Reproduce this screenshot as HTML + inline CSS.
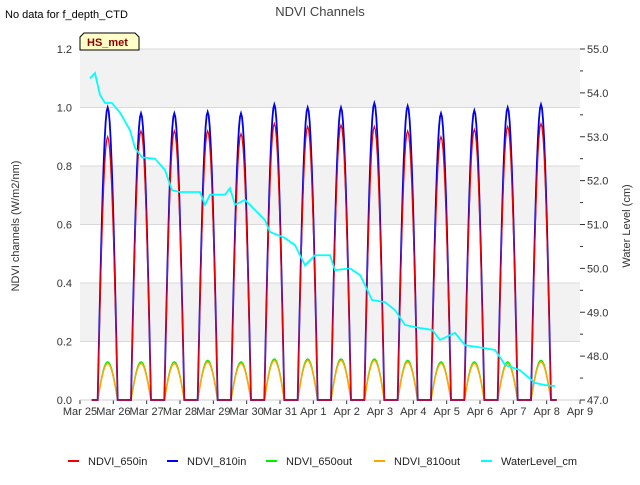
<!DOCTYPE html>
<html><head><meta charset="utf-8"><style>
body{margin:0;background:#fff;font-family:"Liberation Sans","DejaVu Sans",sans-serif}
svg text{font-family:"Liberation Sans","DejaVu Sans",sans-serif}
</style></head><body>
<svg id="c" width="640" height="480" xmlns="http://www.w3.org/2000/svg"></svg>
<script>
const dayLabels=["Mar 25","Mar 26","Mar 27","Mar 28","Mar 29","Mar 30","Mar 31","Apr 1","Apr 2","Apr 3","Apr 4","Apr 5","Apr 6","Apr 7","Apr 8","Apr 9"];
const leftTicks=[0.0,0.2,0.4,0.6,0.8,1.0,1.2];
const rightTicks=[47.0,48.0,49.0,50.0,51.0,52.0,53.0,54.0,55.0];
const peak810in=[1.0,0.98,0.98,0.985,0.98,1.01,1.0,1.0,1.015,1.005,0.98,0.99,1.0,1.01];
const peak650in=[0.9,0.92,0.92,0.92,0.91,0.945,0.935,0.94,0.935,0.92,0.9,0.925,0.935,0.945];
const peak650out=[0.13,0.13,0.13,0.135,0.13,0.14,0.14,0.14,0.14,0.135,0.13,0.13,0.13,0.135];
const peak810out=[0.125,0.125,0.125,0.13,0.125,0.135,0.135,0.135,0.135,0.13,0.125,0.125,0.125,0.13];
const wlDays=[0.30,0.45,0.60,0.75,0.96,1.20,1.50,1.65,1.86,2.25,2.55,2.76,3.0,3.6,3.75,3.9,4.35,4.5,4.65,4.95,5.25,5.55,5.7,6.15,6.45,6.75,7.05,7.5,7.65,8.1,8.4,8.55,8.76,9.15,9.45,9.75,10.2,10.56,10.8,11.25,11.55,12.0,12.45,12.75,13.2,13.65,13.95,14.25];
const wlVals=[54.33,54.45,53.95,53.77,53.77,53.55,53.15,52.75,52.53,52.5,52.24,51.78,51.74,51.74,51.45,51.68,51.68,51.83,51.45,51.56,51.33,51.1,50.83,50.69,50.53,50.07,50.3,50.3,49.96,50.0,49.85,49.62,49.28,49.23,49.05,48.71,48.64,48.6,48.37,48.53,48.25,48.2,48.14,47.8,47.68,47.39,47.34,47.32];

const NS="http://www.w3.org/2000/svg",svg=document.getElementById("c");
const X0=80,X1=580,Y0=400,Y1=49;
const xs=d=>X0+d*(X1-X0)/15;
const yl=v=>Y0-v*(Y0-Y1)/1.2;
const yr=v=>Y0-(v-47)*(Y0-Y1)/8;
function mk(t,a,p){const e=document.createElementNS(NS,t);for(const k in a)e.setAttribute(k,a[k]);(p||svg).appendChild(e);return e;}
[[0.2,0.4],[0.6,0.8],[1.0,1.2]].forEach((b,i)=>{
const r=mk("rect",{x:X0,y:yl(b[1]),width:X1-X0,height:yl(b[0])-yl(b[1]),fill:"#f2f2f2"});

});
leftTicks.forEach(v=>{
const g=mk("line",{x1:X0,x2:X1,y1:yl(v),y2:yl(v),stroke:"#d9d9d9","stroke-width":1});


const t=mk("text",{x:72,y:yl(v)+4,"text-anchor":"end","font-size":11,fill:"#333"});t.textContent=v.toFixed(1);

});
rightTicks.forEach((v,i)=>{
mk("line",{x1:X1,x2:X1+5,y1:yr(v),y2:yr(v),stroke:"#333"});
if(i<rightTicks.length-1)mk("line",{x1:X1,x2:X1+3,y1:yr(v+0.5),y2:yr(v+0.5),stroke:"#333"});
const t=mk("text",{x:587,y:yr(v)+4,"font-size":11,fill:"#333"});t.textContent=v.toFixed(1);

});
dayLabels.forEach((l,i)=>{
mk("line",{x1:xs(i),x2:xs(i),y1:Y0,y2:Y0+4,stroke:"#333"});
const t=mk("text",{x:xs(i),y:415,"text-anchor":"middle","font-size":11,fill:"#333"});t.textContent=l;

});
mk("line",{x1:X0,x2:X1,y1:Y0,y2:Y0,stroke:"#ccc"});
function pulses(peaks,color,name,w){
let pts=[[xs(0.35),yl(0)]];
peaks.forEach((p,i)=>{const c=i+0.83,h=0.3;
pts.push([xs(c-h),yl(0)]);
for(let k=0;k<=20;k++){const t=k/20;pts.push([xs(c-h+2*h*t),yl(p*Math.sin(Math.PI*t))]);}
pts.push([xs(c+h+0.05),yl(0)]);});
pts.push([xs(14.3),yl(0)]);
const e=mk("polyline",{points:pts.map(q=>q.join(",")).join(" "),fill:"none",stroke:color,"stroke-width":w});

}
pulses(peak650out,"#00ee00","ndvi-650out-line",1.5);
pulses(peak810out,"orange","ndvi-810out-line",1.5);
pulses(peak810in,"#0000ee","ndvi-810in-line",1.8);
pulses(peak650in,"#ee0000","ndvi-650in-line",1.2);
const wl=mk("polyline",{points:wlDays.map((d,i)=>xs(d)+","+yr(wlVals[i])).join(" "),fill:"none",stroke:"cyan","stroke-width":1.8});


</script>
<svg style="position:absolute;left:0;top:0" width="640" height="480">
<text x="5" y="18" font-size="11" fill="#000">No data for f_depth_CTD</text>
<text x="320" y="16" font-size="13" fill="#444" text-anchor="middle">NDVI Channels</text>
<path d="M80,50 L80,37 L84,33 L135,33 L139,37 L139,50 Z" fill="#ffffc8" stroke="#000"/>
<text x="87" y="46" font-size="11" font-weight="bold" fill="#8b0000">HS_met</text>
<text transform="translate(19,226) rotate(-90)" font-size="11" fill="#333" text-anchor="middle">NDVI channels (W/m2/nm)</text>
<text transform="translate(630,226) rotate(-90)" font-size="11" fill="#333" text-anchor="middle">Water Level (cm)</text>
<g font-size="11" fill="#222">
<rect x="68" y="460" width="11" height="2" fill="#ee0000"/><text x="88" y="465">NDVI_650in</text>
<rect x="167" y="460" width="11" height="2" fill="#0000ee"/><text x="187" y="465">NDVI_810in</text>
<rect x="266" y="460" width="11" height="2" fill="#00ee00"/><text x="286" y="465">NDVI_650out</text>
<rect x="374" y="460" width="11" height="2" fill="orange"/><text x="394" y="465">NDVI_810out</text>
<rect x="481" y="460" width="11" height="2" fill="cyan"/><text x="501" y="465">WaterLevel_cm</text>
</g>
</svg>
</body></html>
